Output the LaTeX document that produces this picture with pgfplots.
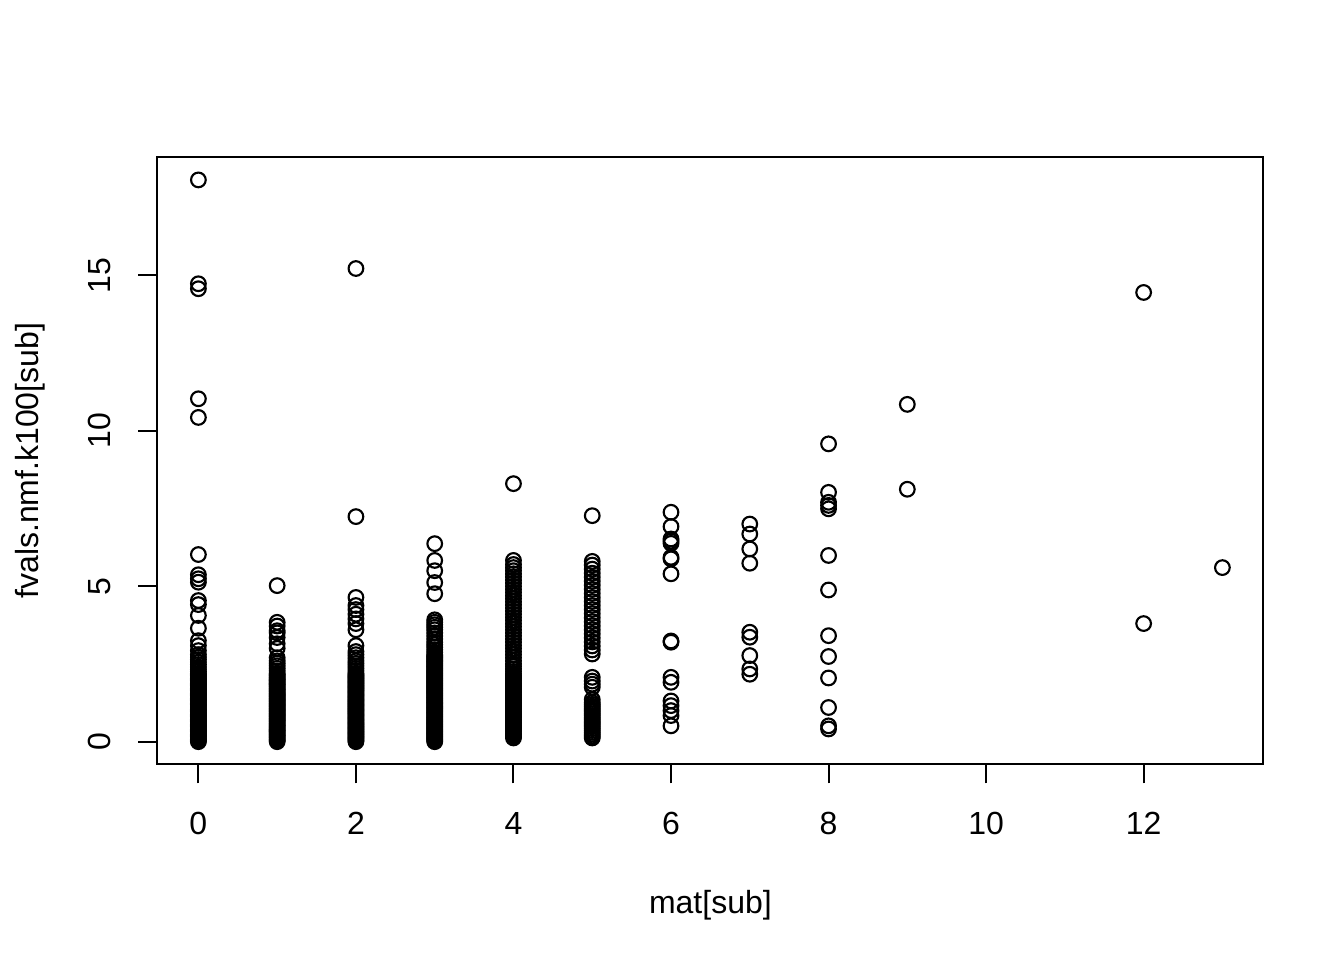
\documentclass[border=0pt]{standalone}
\usepackage{fontspec}
\setmainfont{Liberation Sans}
\usepackage{pgfplots}
\pgfplotsset{compat=1.18}
\begin{document}
\begin{tikzpicture}
\useasboundingbox (-59.04bp,-73.44bp) rectangle (444.96bp,286.56bp);
\begin{axis}[
  at={(0,0)}, anchor=south west,
  scale only axis, width=414.72bp, height=227.52bp,
  xmin=-0.52, xmax=13.52, ymin=-0.7228, ymax=18.7928,
  axis line style={line width=0.75bp, black},
  every tick/.style={line width=0.75bp, black},
  tick align=outside, major tick length=7.2bp,
  xtick pos=bottom, ytick pos=left,
  xtick={0,2,4,6,8,10,12}, ytick={0,5,10,15},
  minor tick num=0,
  /pgf/number format/assume math mode=true,
  tick label style={font=\fontsize{12bp}{14bp}\selectfont},
  xticklabel style={anchor=center, yshift=-14.9bp},
  yticklabel style={anchor=center, xshift=-14.55bp, rotate=90},
  label style={font=\fontsize{12bp}{14bp}\selectfont},
  xlabel={mat[sub]},
  ylabel={fvals.nmf.k100[sub]},
  xlabel style={at={([yshift=-55.9bp]axis description cs:0.5,0)}, anchor=base},
  ylabel style={at={([xshift=-44.6bp]axis description cs:0,0.5)}, anchor=base, rotate=0},
  clip=false,
]
\addplot[only marks, mark=o, mark size=2.75bp, line width=0.8bp, black] coordinates {
(0,0.00)(0,0.04)(0,0.08)(0,0.12)(0,0.16)(0,0.20)(0,0.24)(0,0.28)(0,0.32)(0,0.36)(0,0.40)(0,0.44)(0,0.48)(0,0.52)(0,0.56)(0,0.60)(0,0.64)(0,0.68)(0,0.72)(0,0.76)(0,0.80)(0,0.84)(0,0.88)(0,0.92)(0,0.96)(0,1.00)(0,1.04)(0,1.08)(0,1.12)(0,1.16)(0,1.20)(0,1.24)(0,1.28)(0,1.32)(0,1.36)(0,1.40)(0,1.44)(0,1.48)(0,1.52)(0,1.56)(0,1.60)(0,1.64)(0,1.68)(0,1.72)(0,1.76)(0,1.80)(0,1.84)(0,1.88)(0,1.92)(0,1.96)(0,2.00)(0,2.04)(0,2.08)(0,2.12)(0,2.16)(0,2.20)
(0,2.26)(0,2.33)(0,2.40)(0,2.48)(0,2.56)(0,2.64)(0,2.72)(0,2.80)(0,2.93)(0,3.09)(0,3.25)(0,3.65)(0,4.06)(0,4.41)(0,4.54)(0,5.13)(0,5.24)(0,5.37)(0,6.02)(0,10.43)(0,11.03)(0,14.57)(0,14.73)(0,18.07)
(1,0.00)(1,0.04)(1,0.08)(1,0.12)(1,0.16)(1,0.20)(1,0.24)(1,0.28)(1,0.32)(1,0.36)(1,0.40)(1,0.44)(1,0.48)(1,0.52)(1,0.56)(1,0.60)(1,0.64)(1,0.68)(1,0.72)(1,0.76)(1,0.80)(1,0.84)(1,0.88)(1,0.92)(1,0.96)(1,1.00)(1,1.04)(1,1.08)(1,1.12)(1,1.16)(1,1.20)(1,1.24)(1,1.28)(1,1.32)(1,1.36)(1,1.40)(1,1.44)(1,1.48)(1,1.52)(1,1.56)(1,1.60)(1,1.64)(1,1.68)(1,1.72)(1,1.76)(1,1.80)(1,1.84)(1,1.88)(1,1.92)(1,1.96)(1,2.00)(1,2.04)(1,2.08)(1,2.12)(1,2.16)(1,2.20)
(1,2.28)(1,2.36)(1,2.44)(1,2.52)(1,2.60)(1,2.70)(1,3.00)(1,3.15)(1,3.35)(1,3.50)(1,3.57)(1,3.72)(1,3.84)(1,5.02)
(2,0.00)(2,0.04)(2,0.08)(2,0.12)(2,0.16)(2,0.20)(2,0.24)(2,0.28)(2,0.32)(2,0.36)(2,0.40)(2,0.44)(2,0.48)(2,0.52)(2,0.56)(2,0.60)(2,0.64)(2,0.68)(2,0.72)(2,0.76)(2,0.80)(2,0.84)(2,0.88)(2,0.92)(2,0.96)(2,1.00)(2,1.04)(2,1.08)(2,1.12)(2,1.16)(2,1.20)(2,1.24)(2,1.28)(2,1.32)(2,1.36)(2,1.40)(2,1.44)(2,1.48)(2,1.52)(2,1.56)(2,1.60)(2,1.64)(2,1.68)(2,1.72)(2,1.76)(2,1.80)(2,1.84)(2,1.88)(2,1.92)(2,1.96)(2,2.00)(2,2.04)(2,2.08)(2,2.12)(2,2.16)(2,2.20)
(2,2.28)(2,2.36)(2,2.44)(2,2.52)(2,2.60)(2,2.70)(2,2.80)(2,2.90)(2,3.09)(2,3.60)(2,3.80)(2,3.95)(2,4.10)(2,4.25)(2,4.38)(2,4.64)(2,7.24)(2,15.22)
(3,0.00)(3,0.04)(3,0.08)(3,0.12)(3,0.16)(3,0.20)(3,0.24)(3,0.28)(3,0.32)(3,0.36)(3,0.40)(3,0.44)(3,0.48)(3,0.52)(3,0.56)(3,0.60)(3,0.64)(3,0.68)(3,0.72)(3,0.76)(3,0.80)(3,0.84)(3,0.88)(3,0.92)(3,0.96)(3,1.00)(3,1.04)(3,1.08)(3,1.12)(3,1.16)(3,1.20)(3,1.24)(3,1.28)(3,1.32)(3,1.36)(3,1.40)(3,1.44)(3,1.48)(3,1.52)(3,1.56)(3,1.60)(3,1.64)(3,1.68)(3,1.72)(3,1.76)(3,1.80)(3,1.84)(3,1.88)(3,1.92)(3,1.96)(3,2.00)(3,2.04)(3,2.08)(3,2.12)(3,2.16)(3,2.20)
(3,2.24)(3,2.28)(3,2.32)(3,2.36)(3,2.40)(3,2.44)(3,2.48)(3,2.52)(3,2.56)(3,2.60)(3,2.64)(3,2.68)(3,2.72)(3,2.76)(3,2.80)(3,2.88)(3,2.96)(3,3.04)(3,3.12)(3,3.20)(3,3.30)(3,3.40)(3,3.50)(3,3.60)(3,3.68)(3,3.76)(3,3.84)(3,3.92)(3,4.76)(3,5.12)(3,5.50)(3,5.83)(3,6.37)
(4,0.12)(4,0.17)(4,0.22)(4,0.27)(4,0.32)(4,0.37)(4,0.42)(4,0.47)(4,0.52)(4,0.57)(4,0.62)(4,0.67)(4,0.72)(4,0.77)(4,0.82)(4,0.87)(4,0.92)(4,0.97)(4,1.02)(4,1.07)(4,1.12)(4,1.17)(4,1.22)(4,1.27)(4,1.32)(4,1.37)(4,1.42)(4,1.47)(4,1.52)(4,1.57)(4,1.62)(4,1.67)(4,1.72)(4,1.77)(4,1.82)(4,1.87)(4,1.92)(4,1.97)(4,2.02)(4,2.07)(4,2.12)(4,2.18)
(4,2.26)(4,2.34)(4,2.42)(4,2.50)(4,2.60)(4,2.70)(4,2.80)(4,2.90)(4,3.00)(4,3.10)(4,3.20)(4,3.30)(4,3.40)(4,3.50)(4,3.60)(4,3.70)(4,3.80)(4,3.90)(4,4.00)(4,4.10)(4,4.20)(4,4.30)(4,4.40)(4,4.50)(4,4.60)(4,4.70)(4,4.80)(4,4.90)(4,5.00)(4,5.10)(4,5.20)(4,5.30)(4,5.40)(4,5.50)(4,5.60)(4,5.70)(4,5.83)(4,8.30)
(5,0.12)(5,0.18)(5,0.24)(5,0.30)(5,0.36)(5,0.42)(5,0.48)(5,0.54)(5,0.60)(5,0.66)(5,0.72)(5,0.78)(5,0.84)(5,0.90)(5,0.96)(5,1.02)(5,1.08)(5,1.14)(5,1.20)(5,1.26)(5,1.36)
(5,1.75)(5,1.85)(5,1.95)(5,2.07)
(5,2.82)(5,2.95)(5,3.08)(5,3.21)(5,3.34)(5,3.47)(5,3.60)(5,3.73)(5,3.86)(5,3.99)(5,4.12)(5,4.25)(5,4.38)(5,4.51)(5,4.64)(5,4.77)(5,4.90)(5,5.03)(5,5.16)(5,5.29)(5,5.42)(5,5.55)(5,5.68)(5,5.80)(5,7.27)
(6,0.51)(6,0.84)(6,1.00)(6,1.16)(6,1.31)(6,1.91)(6,2.07)(6,3.20)(6,3.24)(6,5.40)(6,5.88)(6,5.93)(6,6.38)(6,6.45)(6,6.52)(6,6.92)(6,7.38)
(7,2.17)(7,2.34)(7,2.77)(7,3.36)(7,3.52)(7,5.74)(7,6.20)(7,6.68)(7,7.00)
(8,0.41)(8,0.51)(8,1.10)(8,2.05)(8,2.74)(8,3.41)(8,4.88)(8,5.99)(8,7.49)(8,7.60)(8,7.70)(8,8.02)(8,9.58)
(9,8.12)(9,10.85)
(12,3.80)(12,14.45)
(13,5.60)
};
\end{axis}
\end{tikzpicture}
\end{document}
